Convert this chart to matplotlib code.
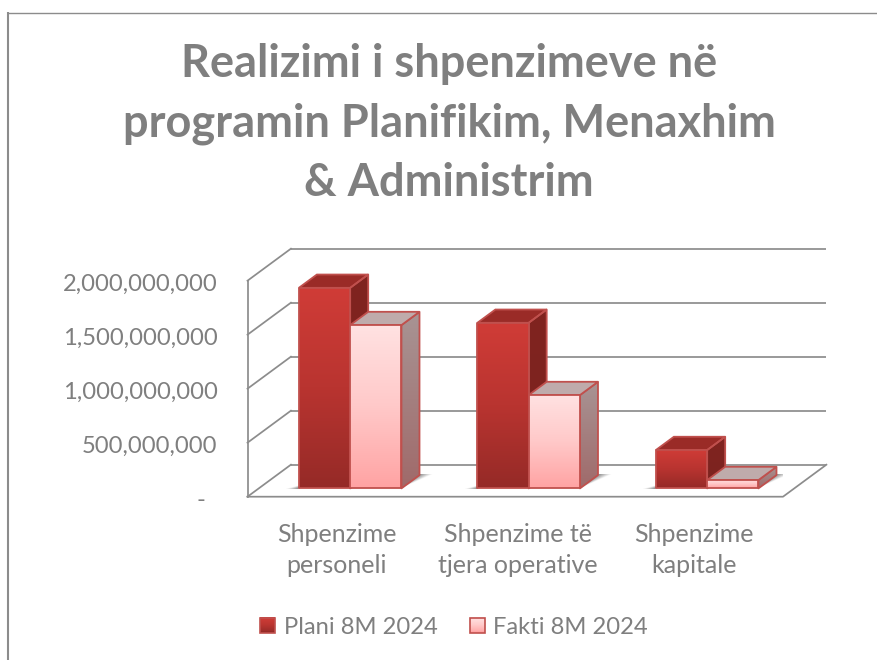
import numpy as np
import matplotlib
matplotlib.use("Agg")
import matplotlib.pyplot as plt
from matplotlib.colors import LinearSegmentedColormap
from matplotlib.lines import Line2D
from matplotlib.patches import Polygon, Rectangle, Patch
from matplotlib.legend_handler import HandlerBase
from matplotlib.transforms import ScaledTranslation

categories = ["Shpenzime\npersoneli", "Shpenzime të\ntjera operative", "Shpenzime\nkapitale"]
series_names = ["Plani 8M 2024", "Fakti 8M 2024"]
plani = [1.857e9, 1.533e9, 0.355e9]
fakti = [1.512e9, 0.864e9, 0.077e9]
value_ticks = [0, 5e8, 1e9, 1.5e9, 2e9]
value_labels = ["-  ", "500,000,000", "1,000,000,000", "1,500,000,000", "2,000,000,000"]
title = "Realizimi i shpenzimeve në\nprogramin Planifikim, Menaxhim\n& Administrim"

W, H = 877, 660
GRAY = "#8c8c8c"
TEXT = "#7f7f7f"
EDGE = "#c0504d"
plt.rcParams["font.family"] = ["Lato", "DejaVu Sans"]

fig = plt.figure(figsize=(W / 100, H / 100), dpi=100, facecolor="white")
L, R, T, B = 247.5, 783.0, 280.7, 496.7
ax = fig.add_axes([L / W, 1 - B / H, (R - L) / W, (B - T) / H])
ax.set_xlim(0, 3)
ax.set_ylim(0, 2e9)
ax.patch.set_visible(False)
for s in ax.spines.values():
    s.set_visible(False)

PX = 3 / (R - L)             # one pixel in category units
DX = 43.4 * PX               # depth shift along category axis
DY = 32.0 * 2e9 / (B - T)    # depth shift along value axis


def pt(x, v, d=0.0):
    return (x + DX * d, v + DY * d)


# frame of the slide
fig.add_artist(Line2D([8 / W, 8 / W], [0, 1 - 12 / H], color=GRAY, lw=1.5, solid_capstyle="butt"))
fig.add_artist(Line2D([7 / W, 1], [1 - 12.7 / H, 1 - 12.7 / H], color=GRAY, lw=1.0, solid_capstyle="butt"))

# back grid and left wall
LW = 1.25
for v in value_ticks:
    ax.plot(*zip(pt(0, v, 1), pt(3, v, 1)), color=GRAY, lw=LW, clip_on=False, zorder=1, solid_capstyle="butt")
    ax.plot(*zip(pt(0, v, 0), pt(0, v, 1)), color=GRAY, lw=LW, clip_on=False, zorder=1)
ax.plot(*zip(pt(0, 0), pt(0, 2e9)), color=GRAY, lw=LW, clip_on=False, zorder=1)
ax.plot(*zip(pt(0, 0), pt(3, 0), pt(3, 0, 1)), color=GRAY, lw=LW, clip_on=False, zorder=1)

D0, D1 = 0.26, 0.675
BW = 51.3 * PX
x0 = 0.512

plan_cmap = LinearSegmentedColormap.from_list("p", ["#d03c37", "#b93430", "#952a27"])
fact_cmap = LinearSegmentedColormap.from_list("f", ["#ffe2e2", "#ffc9c9", "#ffa3a3"])
plan_side = LinearSegmentedColormap.from_list("ps", ["#80241f", "#7c2320"])
fact_side = LinearSegmentedColormap.from_list("fs", ["#a89494", "#a06a6a"])
GRAD = np.linspace(0, 1, 256).reshape(-1, 1)


def grad_poly(verts, cmap, zorder):
    verts = np.array(verts)
    xmin, xmax = verts[:, 0].min(), verts[:, 0].max()
    vmin, vmax = verts[:, 1].min(), verts[:, 1].max()
    im = ax.imshow(GRAD, cmap=cmap, extent=(xmin, xmax, vmin, vmax), origin="upper",
                   aspect="auto", zorder=zorder, interpolation="bilinear")
    p = Polygon(verts, closed=True, transform=ax.transData, fc="none", ec="none", clip_on=False)
    ax.add_patch(p)
    im.set_clip_box(fig.bbox)
    im.set_clip_path(p)
    ax.add_patch(Polygon(verts, closed=True, fc="none", ec=EDGE, lw=1.3, zorder=zorder + 0.1,
                         clip_on=False, joinstyle="round"))


def shadow_image(x_start, x_end, d_a, d_b, fn):
    xmin, xmax = pt(x_start, 0, d_a)[0], pt(x_end, 0, d_b)[0]
    vmin, vmax = DY * d_a, DY * d_b
    X, V = np.meshgrid(np.linspace(xmin, xmax, 160), np.linspace(vmin, vmax, 60))
    Dd = V / DY
    alpha = np.clip(fn(X - DX * Dd, (Dd - d_a) / (d_b - d_a)), 0, 1)
    rgba = np.zeros(alpha.shape + (4,))
    rgba[..., :3] = 0.25
    rgba[..., 3] = alpha
    ax.imshow(rgba, extent=(xmin, xmax, vmin, vmax), origin="lower", aspect="auto", zorder=2,
              interpolation="bilinear")


def bar_faces(x, w, v, front, side, topc, z):
    a, b = x, x + w
    grad_poly([pt(b, 0, D0), pt(b, 0, D1), pt(b, v, D1), pt(b, v, D0)], side, z + 0.2)
    ax.add_patch(Polygon([pt(a, v, D0), pt(b, v, D0), pt(b, v, D1), pt(a, v, D1)], closed=True,
                         fc=topc, ec=EDGE, lw=1.3, zorder=z + 0.3, clip_on=False))
    grad_poly([pt(a, 0, D0), pt(b, 0, D0), pt(b, v, D0), pt(a, v, D0)], front, z + 0.4)


for i in range(len(categories)):
    xa = x0 - BW + i
    xb = x0 + i
    right = xb + BW
    # soft floor shadow right of the bar pair: widens with depth
    shadow_image(right, right + 13 * PX, D0, D1,
                 lambda u, t, r=right: 0.62 * np.where(u >= r, 1 - (u - r) / (13 * PX * t + 1e-9), 0))
    # soft floor shadow left of the bar pair: narrows with depth
    shadow_image(xa - 13 * PX, xa, D0 - 0.01, D0 + 0.14,
                 lambda u, t, r=xa: 0.62 * np.where(u <= r, 1 - (r - u) / (13 * PX * (1 - t) + 1e-9), 0))
    bar_faces(xa, BW, plani[i], plan_cmap, plan_side, "#9a2b27", 3)
    bar_faces(xb, BW, fakti[i], fact_cmap, fact_side, "#bfabab", 4)

ax.set_xlim(0, 3)
ax.set_ylim(0, 2e9)
ax.set_yticks(value_ticks, value_labels)
ax.set_xticks([0.5, 1.515, 2.5], categories)
ax.tick_params(axis="y", length=0, pad=21.5, labelsize=17.1, labelcolor=TEXT)
ax.tick_params(axis="x", length=0, pad=19.2, labelsize=18, labelcolor=TEXT)
for lab in ax.get_xticklabels():
    lab.set_linespacing(1.42)
shift = ScaledTranslation(0, -2 / 72 * 0.72, fig.dpi_scale_trans)
for lab in ax.get_yticklabels():
    lab.set_transform(lab.get_transform() + shift)

fig.text(449 / W, 1 - 123.7 / H, title, ha="center", va="center", fontsize=32.5, fontweight="bold",
         color=TEXT, linespacing=1.5)


class GradientHandler(HandlerBase):
    def create_artists(self, legend, orig, xd, yd, width, height, fontsize, trans):
        cm = plan_cmap if orig.get_label() == series_names[0] else fact_cmap
        n = 16
        out = []
        size = 10.8
        x = -xd + (width - size) / 2
        y = -yd + (height - size) / 2
        for k in range(n):
            out.append(Rectangle((x, y + size * (n - 1 - k) / n), size, size / n + 0.2, fc=cm(k / (n - 1)),
                                 ec="none", transform=trans))
        out.append(Rectangle((x, y), size, size, fc="none", ec=EDGE, lw=1.2, transform=trans))
        return out


handles = [Patch(label=series_names[0]), Patch(label=series_names[1])]
fig.legend(handles=handles, handler_map={Patch: GradientHandler()}, ncol=2, frameon=False,
           loc="center", bbox_to_anchor=(454 / W, 1 - 627 / H), fontsize=17.1, labelcolor=TEXT,
           handlelength=0.65, handletextpad=0.35, columnspacing=1.35)

fig.savefig("out.png", dpi=100, facecolor="white")
